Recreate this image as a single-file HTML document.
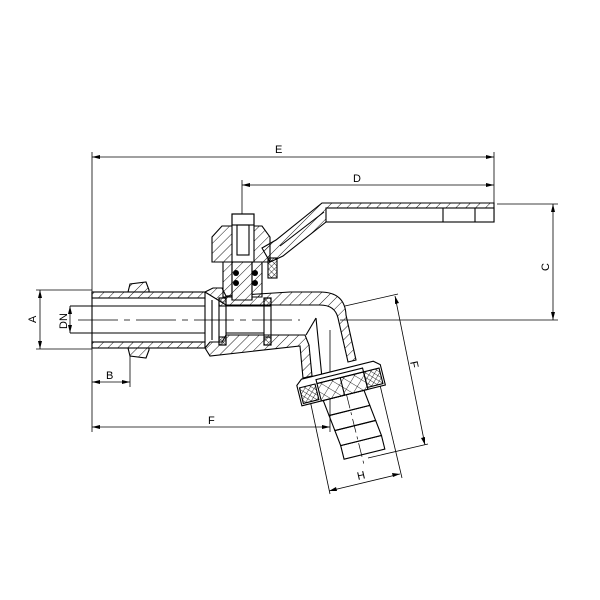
<!DOCTYPE html>
<html><head><meta charset="utf-8"><style>html,body{margin:0;padding:0;background:#fff}svg{display:block}</style></head>
<body>
<svg width="600" height="600" viewBox="0 0 600 600" xmlns="http://www.w3.org/2000/svg" font-family="Liberation Sans, sans-serif">
<defs>
<pattern id="h" width="7" height="7" patternUnits="userSpaceOnUse" patternTransform="rotate(45)">
<line x1="0" y1="0" x2="0" y2="7" stroke="#000" stroke-width="0.9"/>
</pattern>
<pattern id="x" width="4" height="4" patternUnits="userSpaceOnUse" patternTransform="rotate(45)">
<line x1="0" y1="0" x2="0" y2="4" stroke="#000" stroke-width="0.8"/><line x1="0" y1="0" x2="4" y2="0" stroke="#000" stroke-width="0.8"/>
</pattern>
<pattern id="xl" width="8" height="8" patternUnits="userSpaceOnUse" patternTransform="rotate(45)">
<line x1="0" y1="0" x2="0" y2="8" stroke="#000" stroke-width="0.8"/><line x1="0" y1="0" x2="8" y2="0" stroke="#000" stroke-width="0.8"/>
</pattern>
</defs>
<g stroke="#000" stroke-width="0.8" fill="none">
<line x1="92" y1="152" x2="92" y2="432"/>
<line x1="494" y1="152" x2="494" y2="205"/>
<line x1="92" y1="157" x2="494" y2="157"/>
<line x1="242" y1="180" x2="242" y2="216"/>
<line x1="242" y1="185" x2="494" y2="185"/>
<line x1="497" y1="204" x2="558" y2="204"/>
<line x1="340" y1="320" x2="558" y2="320"/>
<line x1="553" y1="204" x2="553" y2="320"/>
<line x1="36" y1="290" x2="92" y2="290"/>
<line x1="36" y1="349" x2="92" y2="349"/>
<line x1="40" y1="290" x2="40" y2="349"/>
<line x1="70" y1="306" x2="70" y2="333"/>
<line x1="130" y1="355" x2="130" y2="387"/>
<line x1="92" y1="382" x2="130" y2="382"/>
<line x1="330" y1="330" x2="330" y2="432"/>
<line x1="92" y1="427" x2="330" y2="427"/>
<line x1="345" y1="306" x2="398" y2="294"/>
<line x1="368" y1="458" x2="428" y2="444"/>
<line x1="395" y1="296" x2="425" y2="445"/>
<line x1="310" y1="400" x2="330" y2="494"/>
<line x1="380" y1="385" x2="402" y2="478"/>
<line x1="329" y1="491" x2="400" y2="474"/>
</g>
<g fill="#000">
<path d="M92,157 l8,-2 v4z"/><path d="M494,157 l-8,-2 v4z"/>
<path d="M242,185 l8,-2 v4z"/><path d="M494,185 l-8,-2 v4z"/>
<path d="M553,204 l-2,8 h4z"/><path d="M553,320 l-2,-8 h4z"/>
<path d="M40,290 l-2,8 h4z"/><path d="M40,349 l-2,-8 h4z"/>
<path d="M70,306 l-2,8 h4z"/><path d="M70,333 l-2,-8 h4z"/>
<path d="M92,382 l8,-2 v4z"/><path d="M130,382 l-8,-2 v4z"/>
<path d="M92,427 l8,-2 v4z"/><path d="M330,427 l-8,-2 v4z"/>
<path d="M395,296 l0,8 l4,-1z"/><path d="M425,445 l-4,-7 l4,-1z"/>
<path d="M329,491 l7,-4 l1,4z"/><path d="M400,474 l-8,-1 l1,4z"/>
</g>
<g font-size="11" fill="#000">
<text x="275" y="153">E</text>
<text x="353" y="182">D</text>
<text x="106" y="379">B</text>
<text x="208" y="424">F</text>
<text x="357" y="479" transform="rotate(-13 362 475)">H</text>
<text transform="translate(549,271) rotate(-90)">C</text>
<text transform="translate(36,323) rotate(-90)">A</text>
<text transform="translate(67,329) rotate(-90)">DN</text>
<text transform="translate(410,362) rotate(78)">F</text>
</g>
<g stroke="#000" stroke-width="1.1" fill="none">
<rect x="92" y="292" width="113" height="6" fill="url(#h)"/>
<rect x="92" y="342" width="113" height="6" fill="url(#h)"/>
<line x1="92" y1="292" x2="92" y2="348"/>
<line x1="70" y1="306" x2="205" y2="306"/>
<line x1="70" y1="333" x2="205" y2="333"/>
<path d="M128,292 L130,284 L146,282 L149,290 L149,292 Z" fill="url(#h)"/>
<path d="M128,348 L130,356 L146,358 L149,350 L149,348 Z" fill="url(#h)"/>
<path d="M205,292 L213,288 L222,288 L226,296 L290,292 L320,292 Q345,292 346,315 L356,360 L348,362 L338,318 Q335,305 320,305 L226,305 Z" fill="url(#h)"/>
<path d="M205,348 L210,356 L300,346 L303,378 L312,376 L309,345 L305,335 L226,335 L222,342 L210,342 Z" fill="url(#h)"/>
<line x1="205" y1="298" x2="205" y2="342"/>
<line x1="212" y1="300" x2="212" y2="340"/>
<rect x="219" y="298" width="7" height="47"/>
<rect x="264" y="298" width="7" height="47"/>
<rect x="219" y="298" width="7" height="8" fill="url(#x)"/>
<rect x="219" y="337" width="7" height="8" fill="url(#x)"/>
<rect x="264" y="298" width="7" height="8" fill="url(#x)"/>
<rect x="264" y="337" width="7" height="8" fill="url(#x)"/>
<line x1="226" y1="306" x2="264" y2="306"/>
<line x1="226" y1="333" x2="264" y2="333"/>
<line x1="316" y1="318" x2="322" y2="378"/>
<line x1="306" y1="335" x2="316" y2="318"/>
<path d="M223,262 L262,262 L262,297 L223,297 Z" fill="url(#h)"/>
<path d="M232,262 L252,262 L252,300 L232,300 Z" fill="#fff"/>
<path d="M232,262 L252,262 L252,300 L232,300 Z" fill="url(#h)"/>
<path d="M212,237 L222,226 L262,226 L270,237 L270,262 L212,262 Z" fill="url(#h)"/>
<rect x="232" y="214" width="22" height="48" fill="#fff"/>
<rect x="232" y="214" width="22" height="11"/>
<rect x="237" y="225" width="12" height="30"/>
<rect x="268" y="258" width="9" height="20" fill="url(#x)"/>
<path d="M262,248 L276,240 L322,203 L494,203 L494,222 L326,222 L283,256 L270,262 Z" fill="url(#h)"/>
<rect x="326" y="208" width="168" height="14" fill="#fff"/>
<line x1="326" y1="208" x2="494" y2="208"/>
<line x1="443" y1="208" x2="443" y2="222"/>
<line x1="475" y1="208" x2="475" y2="222"/>
<line x1="280" y1="246" x2="324" y2="212"/>
</g>
<g fill="#000">
<circle cx="236" cy="273" r="3"/><circle cx="236" cy="283" r="3"/>
<circle cx="255" cy="273" r="3"/><circle cx="255" cy="283" r="3"/>
</g>
<g stroke="#000" stroke-width="0.7" stroke-dasharray="40,6,6,6">
<line x1="78" y1="320" x2="300" y2="320"/>
</g>
<g transform="rotate(-14 340 385)" stroke="#000" stroke-width="1.1" fill="none">
<path d="M298,375 L304,370 L378,370 L384,375 L384,396 L298,396 Z" fill="#fff"/>
<rect x="300" y="378" width="16" height="16" fill="url(#x)"/>
<rect x="366" y="378" width="16" height="16" fill="url(#x)"/>
<rect x="318" y="374" width="48" height="4"/>
<rect x="318" y="378" width="48" height="18" fill="url(#xl)"/>
<line x1="342" y1="378" x2="342" y2="396"/>
<path d="M320,396 L362,396 L364,412 L322,412 Z"/>
<path d="M322,412 L364,412 L366,428 L324,428 Z"/>
<path d="M324,428 L366,428 L368,444 L326,444 Z"/>
<path d="M326,444 L368,444 L368,458 L326,458 Z"/>
<line x1="344" y1="396" x2="344" y2="470" stroke-width="0.7" stroke-dasharray="14,4,3,4"/>
</g>
</svg>
</body></html>
